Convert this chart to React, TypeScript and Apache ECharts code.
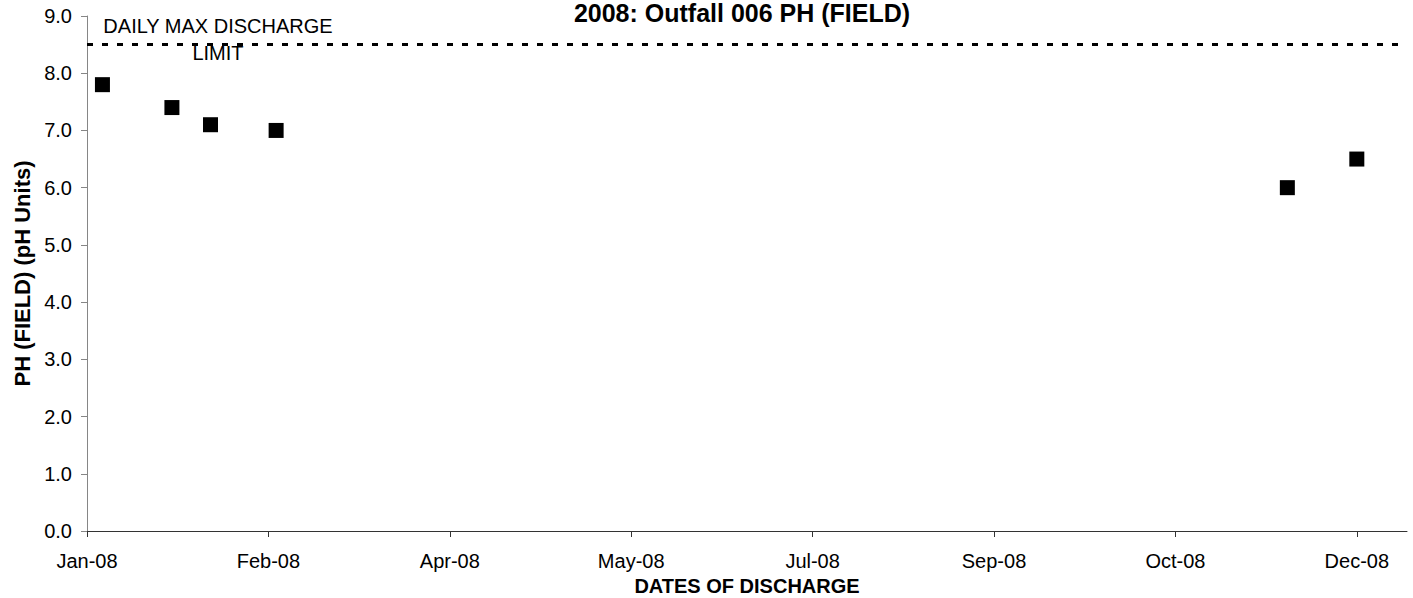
import React, { useEffect, useRef } from "react";
import * as echarts from "echarts";

// ---- data ----
const TITLE = "2008: Outfall 006 PH (FIELD)";
const X_NAME = "DATES OF DISCHARGE";
const Y_NAME = "PH (FIELD) (pH Units)";
const LIMIT_LABEL = "DAILY MAX DISCHARGE\nLIMIT";
const DISCHARGE_DATES = ["2008-01-14", "2008-02-01", "2008-02-11", "2008-02-28", "2008-11-16", "2008-12-04"];
const PH_VALUES = [7.8, 7.4, 7.1, 7.0, 6.0, 6.5];
const DAILY_MAX_LIMIT = 8.5;
const AXIS_START = "2008-01-10"; // date at the left end of the x axis
const AXIS_END = "2008-12-17"; // date at the right end of the x axis
const X_TICK_STEP_DAYS = 47;
const X_TICK_COUNT = 8;
const Y_MIN = 0;
const Y_MAX = 9;
const MONTHS = ["Jan", "Feb", "Mar", "Apr", "May", "Jun", "Jul", "Aug", "Sep", "Oct", "Nov", "Dec"];

const DAY = 86400000;
const toMs = (s: string) => {
  const [y, m, d] = s.split("-").map(Number);
  return Date.UTC(y, m - 1, d);
};
const startMs = toMs(AXIS_START);
const dayOffset = (s: string) => Math.round((toMs(s) - startMs) / DAY);
const fmtDate = (v: number) => {
  const d = new Date(startMs + v * DAY);
  return `${MONTHS[d.getUTCMonth()]}-${String(d.getUTCFullYear() % 100).padStart(2, "0")}`;
};

const FONT = 'Arial, "Liberation Sans", sans-serif';

export default function App() {
  const ref = useRef<HTMLDivElement>(null);
  useEffect(() => {
    if (!ref.current) return;
    const chart = echarts.init(ref.current, undefined, { renderer: "svg" });
    const tickValues = Array.from({ length: X_TICK_COUNT }, (_, i) => i * X_TICK_STEP_DAYS);
    chart.setOption({
      animation: false,
      backgroundColor: "#ffffff",
      textStyle: { fontFamily: FONT },
      title: {
        text: TITLE,
        left: 742,
        textAlign: "center",
        top: 0,
        padding: 0,
        textStyle: { fontFamily: FONT, fontSize: 25, fontWeight: "bold", color: "#000" },
      },
      grid: { left: 87, right: 6, top: 16, bottom: 67, containLabel: false, outerBoundsMode: "none" },
      xAxis: {
        type: "value",
        min: 0,
        max: dayOffset(AXIS_END),
        name: X_NAME,
        nameLocation: "middle",
        nameGap: 38,
        nameTextStyle: { fontFamily: FONT, fontSize: 20, fontWeight: "bold", color: "#000" },
        axisLine: { show: true, lineStyle: { color: "#333", width: 1 } },
        axisTick: { show: true, inside: false, length: 6, lineStyle: { color: "#333" }, customValues: tickValues },
        axisLabel: {
          fontFamily: FONT,
          fontSize: 20,
          color: "#000",
          margin: 20,
          customValues: tickValues,
          formatter: (v: number) => fmtDate(v),
        },
        splitLine: { show: false },
      },
      yAxis: {
        type: "value",
        min: Y_MIN,
        max: Y_MAX,
        interval: 1,
        name: Y_NAME,
        nameLocation: "middle",
        nameGap: 53,
        nameTextStyle: { fontFamily: FONT, fontSize: 22, fontWeight: "bold", color: "#000" },
        axisLine: { show: true, lineStyle: { color: "#868686", width: 1 } },
        axisTick: { show: true, inside: false, length: 6, lineStyle: { color: "#868686" } },
        axisLabel: {
          fontFamily: FONT,
          fontSize: 20,
          color: "#000",
          margin: 15,
          formatter: (v: number) => v.toFixed(1),
        },
        splitLine: { show: false },
      },
      graphic: [
        {
          type: "text",
          x: 218,
          y: 13,
          style: {
            text: LIMIT_LABEL,
            fontFamily: FONT,
            fontSize: 20,
            lineHeight: 26.5,
            fill: "#000",
            align: "center",
            verticalAlign: "top",
          },
          z: 1,
        },
      ],
      series: [
        {
          type: "scatter",
          name: "PH (FIELD)",
          symbol: "rect",
          symbolSize: 15,
          itemStyle: { color: "#000", opacity: 1 },
          data: DISCHARGE_DATES.map((d, i) => [dayOffset(d), PH_VALUES[i]]),
          z: 3,
          markLine: {
            silent: true,
            symbol: "none",
            label: { show: false },
            lineStyle: { color: "#000", width: 3, type: [6, 9], opacity: 1 },
            data: [{ yAxis: DAILY_MAX_LIMIT }],
          },
        },
      ],
    });
    return () => chart.dispose();
  }, []);
  return (
    <div
      ref={ref}
      style={{ position: "absolute", left: 0, top: 0, width: 1413, height: 598, background: "#fff" }}
    />
  );
}
